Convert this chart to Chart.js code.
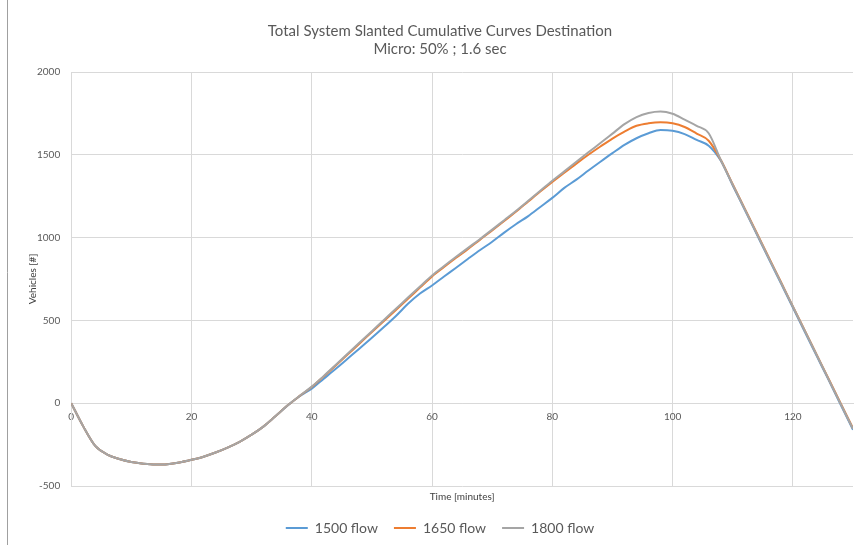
<!DOCTYPE html>
<html>
<head>
<meta charset="utf-8">
<script src="https://cdn.jsdelivr.net/npm/chart.js@4/dist/chart.umd.min.js"></script>
<style>
html,body{margin:0;padding:0;background:#fff;}
#wrap{position:relative;width:862px;height:545px;}
</style>
</head>
<body>
<div id="wrap"><canvas id="flowChart" width="862" height="545"></canvas></div>
<script>
// minutes
const times=[0,2,4,6,8,10,12,14,16,18,20,22,24,26,28,30,32,34,36,38,40,42,44,46,48,50,52,54,56,58,60,62,64,66,68,70,72,74,76,78,80,82,84,86,88,90,92,94,96,98,100,102,104,106,108,110,112,114,116,118,120,122,124,126,128,130];
const flow1500=[0,-140,-258,-310,-337,-355,-365,-370,-368,-358,-342,-323,-298,-268,-233,-190,-140,-77,-13,42,88,148,208,270,332,395,460,527,600,662,711,765,818,872,925,975,1030,1082,1130,1185,1240,1300,1350,1405,1458,1510,1560,1600,1630,1650,1645,1625,1590,1555,1465,1315,1168,1020,872,725,578,430,283,136,-12,-160];
const flow1650=[0,-140,-258,-310,-337,-355,-365,-370,-368,-358,-342,-323,-298,-268,-233,-190,-140,-77,-13,44,98,162,228,295,362,430,497,563,630,698,765,822,878,932,988,1043,1100,1158,1218,1278,1336,1392,1447,1500,1550,1598,1640,1675,1690,1696,1690,1668,1628,1585,1470,1322,1175,1028,880,733,585,438,290,143,-5,-152];
const flow1800=[0,-140,-258,-310,-337,-355,-365,-370,-368,-358,-342,-323,-298,-268,-233,-190,-140,-77,-13,45,100,165,232,300,368,435,503,570,638,705,771,828,884,938,992,1048,1105,1162,1222,1283,1343,1400,1458,1515,1571,1628,1685,1728,1753,1762,1748,1712,1675,1630,1470,1320,1172,1024,876,730,584,436,288,140,-8,-155];
const seriesNames=['1500 flow','1650 flow','1800 flow'];
const seriesColors=['#5B9BD5','#ED7D31','#A5A5A5'];

const FONT='Lato, "Liberation Sans", sans-serif';
const GRID='#d9d9d9';
const TXT='#595959';

const toPts=vals=>times.map((t,i)=>({x:t,y:vals[i]}));

// white background + the thin frame line on the left edge
const frame={id:'frame',beforeDraw(c){const g=c.ctx;g.save();g.fillStyle='#fff';g.fillRect(0,0,c.width,c.height);g.strokeStyle='#a0a0a0';g.lineWidth=1;g.beginPath();g.moveTo(7.5,0);g.lineTo(7.5,c.height);g.stroke();g.restore();}};

new Chart(document.getElementById('flowChart'),{
type:'line',
data:{datasets:[flow1500,flow1650,flow1800].map((v,i)=>({
label:seriesNames[i],data:toPts(v),borderColor:seriesColors[i],backgroundColor:seriesColors[i],
borderWidth:2,pointRadius:0,pointStyle:'line',cubicInterpolationMode:'monotone',
order:2-i // last series drawn on top, like the original
}))},
options:{responsive:false,animation:false,
layout:{padding:{left:27,right:9,top:10,bottom:0}},
scales:{
x:{type:'linear',min:0,max:130,position:{y:0},
ticks:{stepSize:20,includeBounds:false,color:TXT,font:{family:FONT,size:10},padding:8,maxRotation:0},
grid:{color:GRID,drawTicks:false},border:{color:GRID}},
x2:{type:'linear',min:0,max:130,position:'bottom',
ticks:{display:false},grid:{display:false},border:{display:false},
title:{display:true,text:'Time [minutes]',color:'#404040',font:{family:FONT,size:10},padding:{top:0,bottom:2}},
afterFit:s=>{s.height-=3;}},
y:{min:-500,max:2000,
ticks:{stepSize:500,color:TXT,font:{family:FONT,size:10},padding:11,callback:v=>String(v)},
grid:{color:GRID,drawTicks:false},border:{color:GRID},
title:{display:true,text:'Vehicles [#]',color:'#404040',font:{family:FONT,size:10},padding:{top:0,bottom:2}},
afterFit:s=>{s.width-=15;}}
},
plugins:{
title:{display:true,text:['Total System Slanted Cumulative Curves Destination','Micro: 50% ; 1.6 sec'],
color:TXT,font:{family:FONT,size:15,weight:'normal'},padding:{top:12,bottom:14},lineHeight:1.3},
legend:{position:'bottom',labels:{usePointStyle:true,pointStyle:'line',pointStyleWidth:22,color:TXT,font:{family:FONT,size:14},padding:16,
sort:(a,b)=>a.datasetIndex-b.datasetIndex}},
tooltip:{enabled:false}
}
},
plugins:[frame]
});
</script>
</body>
</html>
